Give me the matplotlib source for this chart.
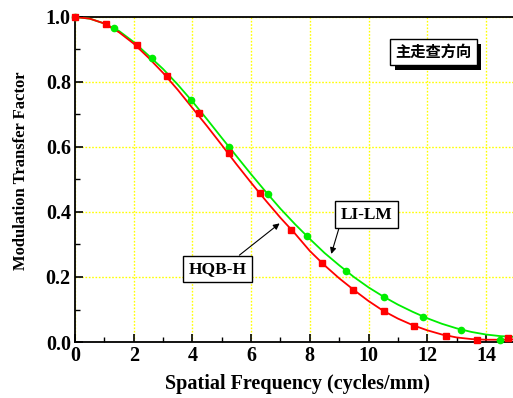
import matplotlib
matplotlib.use("Agg")
import matplotlib.pyplot as plt
from matplotlib.ticker import MultipleLocator
from matplotlib import patheffects as pe

# ---- data ----
hqb_x = [0.0, 1.05, 2.1, 3.15, 4.22, 5.26, 6.31, 7.37, 8.41, 9.47, 10.53, 11.56, 12.64, 13.68, 14.74]
hqb_y = [1.0, 0.978, 0.914, 0.819, 0.706, 0.582, 0.458, 0.344, 0.243, 0.160, 0.094, 0.048, 0.018, 0.007, 0.013]
lilm_x = [0.0, 1.32, 2.63, 3.95, 5.26, 6.59, 7.90, 9.22, 10.53, 11.84, 13.14, 14.48]
lilm_y = [1.0, 0.966, 0.874, 0.745, 0.599, 0.454, 0.326, 0.220, 0.138, 0.077, 0.036, 0.005]

curve_x = [0, 0.5, 1, 1.5, 2, 2.5, 3, 3.5, 4, 4.5, 5, 5.5, 6, 6.5, 7, 7.5, 8, 8.5,
           9, 9.5, 10, 10.5, 11, 11.5, 12, 12.5, 13, 13.5, 14, 14.5, 14.95]
hqb_curve = [1.0, 0.995, 0.98, 0.953, 0.918, 0.875, 0.828, 0.776, 0.72, 0.664, 0.606,
             0.547, 0.49, 0.435, 0.382, 0.333, 0.28, 0.236, 0.196, 0.16, 0.126, 0.096,
             0.072, 0.052, 0.036, 0.023, 0.014, 0.009, 0.007, 0.007, 0.008]
lilm_curve = [1.0, 0.995, 0.98, 0.957, 0.923, 0.882, 0.84, 0.792, 0.74, 0.685, 0.628,
              0.572, 0.516, 0.462, 0.41, 0.362, 0.317, 0.274, 0.236, 0.2, 0.168, 0.14,
              0.115, 0.093, 0.073, 0.056, 0.042, 0.031, 0.023, 0.018, 0.016]

x_ticks = [0, 2, 4, 6, 8, 10, 12, 14]
y_ticks = [0.0, 0.2, 0.4, 0.6, 0.8, 1.0]

serif = "Liberation Serif"
cjk = ["Noto Sans CJK SC", "DejaVu Sans"]

fig = plt.figure(figsize=(5.13, 3.98), dpi=100)
ax = fig.add_axes([75/513, 56/398, 438/513, 325/398])

ax.plot(curve_x, lilm_curve, color="#00ee00", lw=1.3, zorder=3)
ax.plot(curve_x, hqb_curve, color="#ff0000", lw=1.3, zorder=3)
ax.plot(lilm_x, lilm_y, "o", color="#00ee00", ms=4.5, zorder=4, clip_on=False)
ax.plot(hqb_x, hqb_y, "s", color="#ff0000", ms=4.2, zorder=4, clip_on=False)

ax.set_xlim(0, 14.92)
ax.set_ylim(0, 1.0)
ax.set_xticks(x_ticks)
ax.set_yticks(y_ticks)
ax.set_xticklabels([str(v) for v in x_ticks])
ax.set_yticklabels([f"{v:.1f}" for v in y_ticks])
ax.xaxis.set_minor_locator(MultipleLocator(1))
ax.yaxis.set_minor_locator(MultipleLocator(0.1))
ax.tick_params(which="major", direction="in", length=6, width=1.2, labelsize=14.5, pad=3)
ax.tick_params(which="minor", direction="in", length=3.5, width=1.0)
for lab in ax.get_xticklabels() + ax.get_yticklabels():
    lab.set_fontfamily(serif)
    lab.set_fontweight("bold")

ax.grid(True, which="major", color="#ffff00", linestyle=(0, (1.2, 1.2)), lw=1.0)
ax.set_axisbelow(True)
ax.spines["right"].set_visible(False)
for s in ["left", "bottom", "top"]:
    ax.spines[s].set_linewidth(1.3)

ax.set_xlabel("Spatial Frequency (cycles/mm)", fontfamily=serif, fontweight="bold",
              fontsize=14.5)
ax.set_ylabel("Modulation Transfer Factor", fontfamily=serif, fontweight="bold",
              fontsize=12.0)
ax.xaxis.set_label_coords(0.508, -0.098)
ax.yaxis.set_label_coords(-0.106, 0.526)

# annotations
ax.annotate("LI-LM", xy=(8.73, 0.271), xytext=(9.93, 0.392),
            fontfamily=serif, fontweight="bold", fontsize=12.5, ha="center", va="center",
            bbox=dict(boxstyle="square,pad=0.3", fc="white", ec="black", lw=1.0),
            arrowprops=dict(arrowstyle="-|>", color="black", lw=0.8, mutation_scale=9,
                            shrinkA=0, shrinkB=0, relpos=(0.0, 0.0)), zorder=5)
ax.annotate("HQB-H", xy=(6.97, 0.365), xytext=(4.86, 0.225),
            fontfamily=serif, fontweight="bold", fontsize=12.5, ha="center", va="center",
            bbox=dict(boxstyle="square,pad=0.3", fc="white", ec="black", lw=1.0),
            arrowprops=dict(arrowstyle="-|>", color="black", lw=0.8, mutation_scale=9,
                            shrinkA=0, shrinkB=0, relpos=(0.75, 1.0)), zorder=5)

# shadowed title box
t = ax.text(12.2, 0.892, "主走查方向", family=cjk, fontweight="bold", fontsize=11,
            ha="center", va="center", color="black",
            bbox=dict(boxstyle="square,pad=0.35", fc="white", ec="black", lw=1.0), zorder=6)
t.get_bbox_patch().set_path_effects([
    pe.SimplePatchShadow(offset=(3.5, -3.5), shadow_rgbFace="black", alpha=1.0),
    pe.Normal()])

fig.savefig("out.png", dpi=100)
